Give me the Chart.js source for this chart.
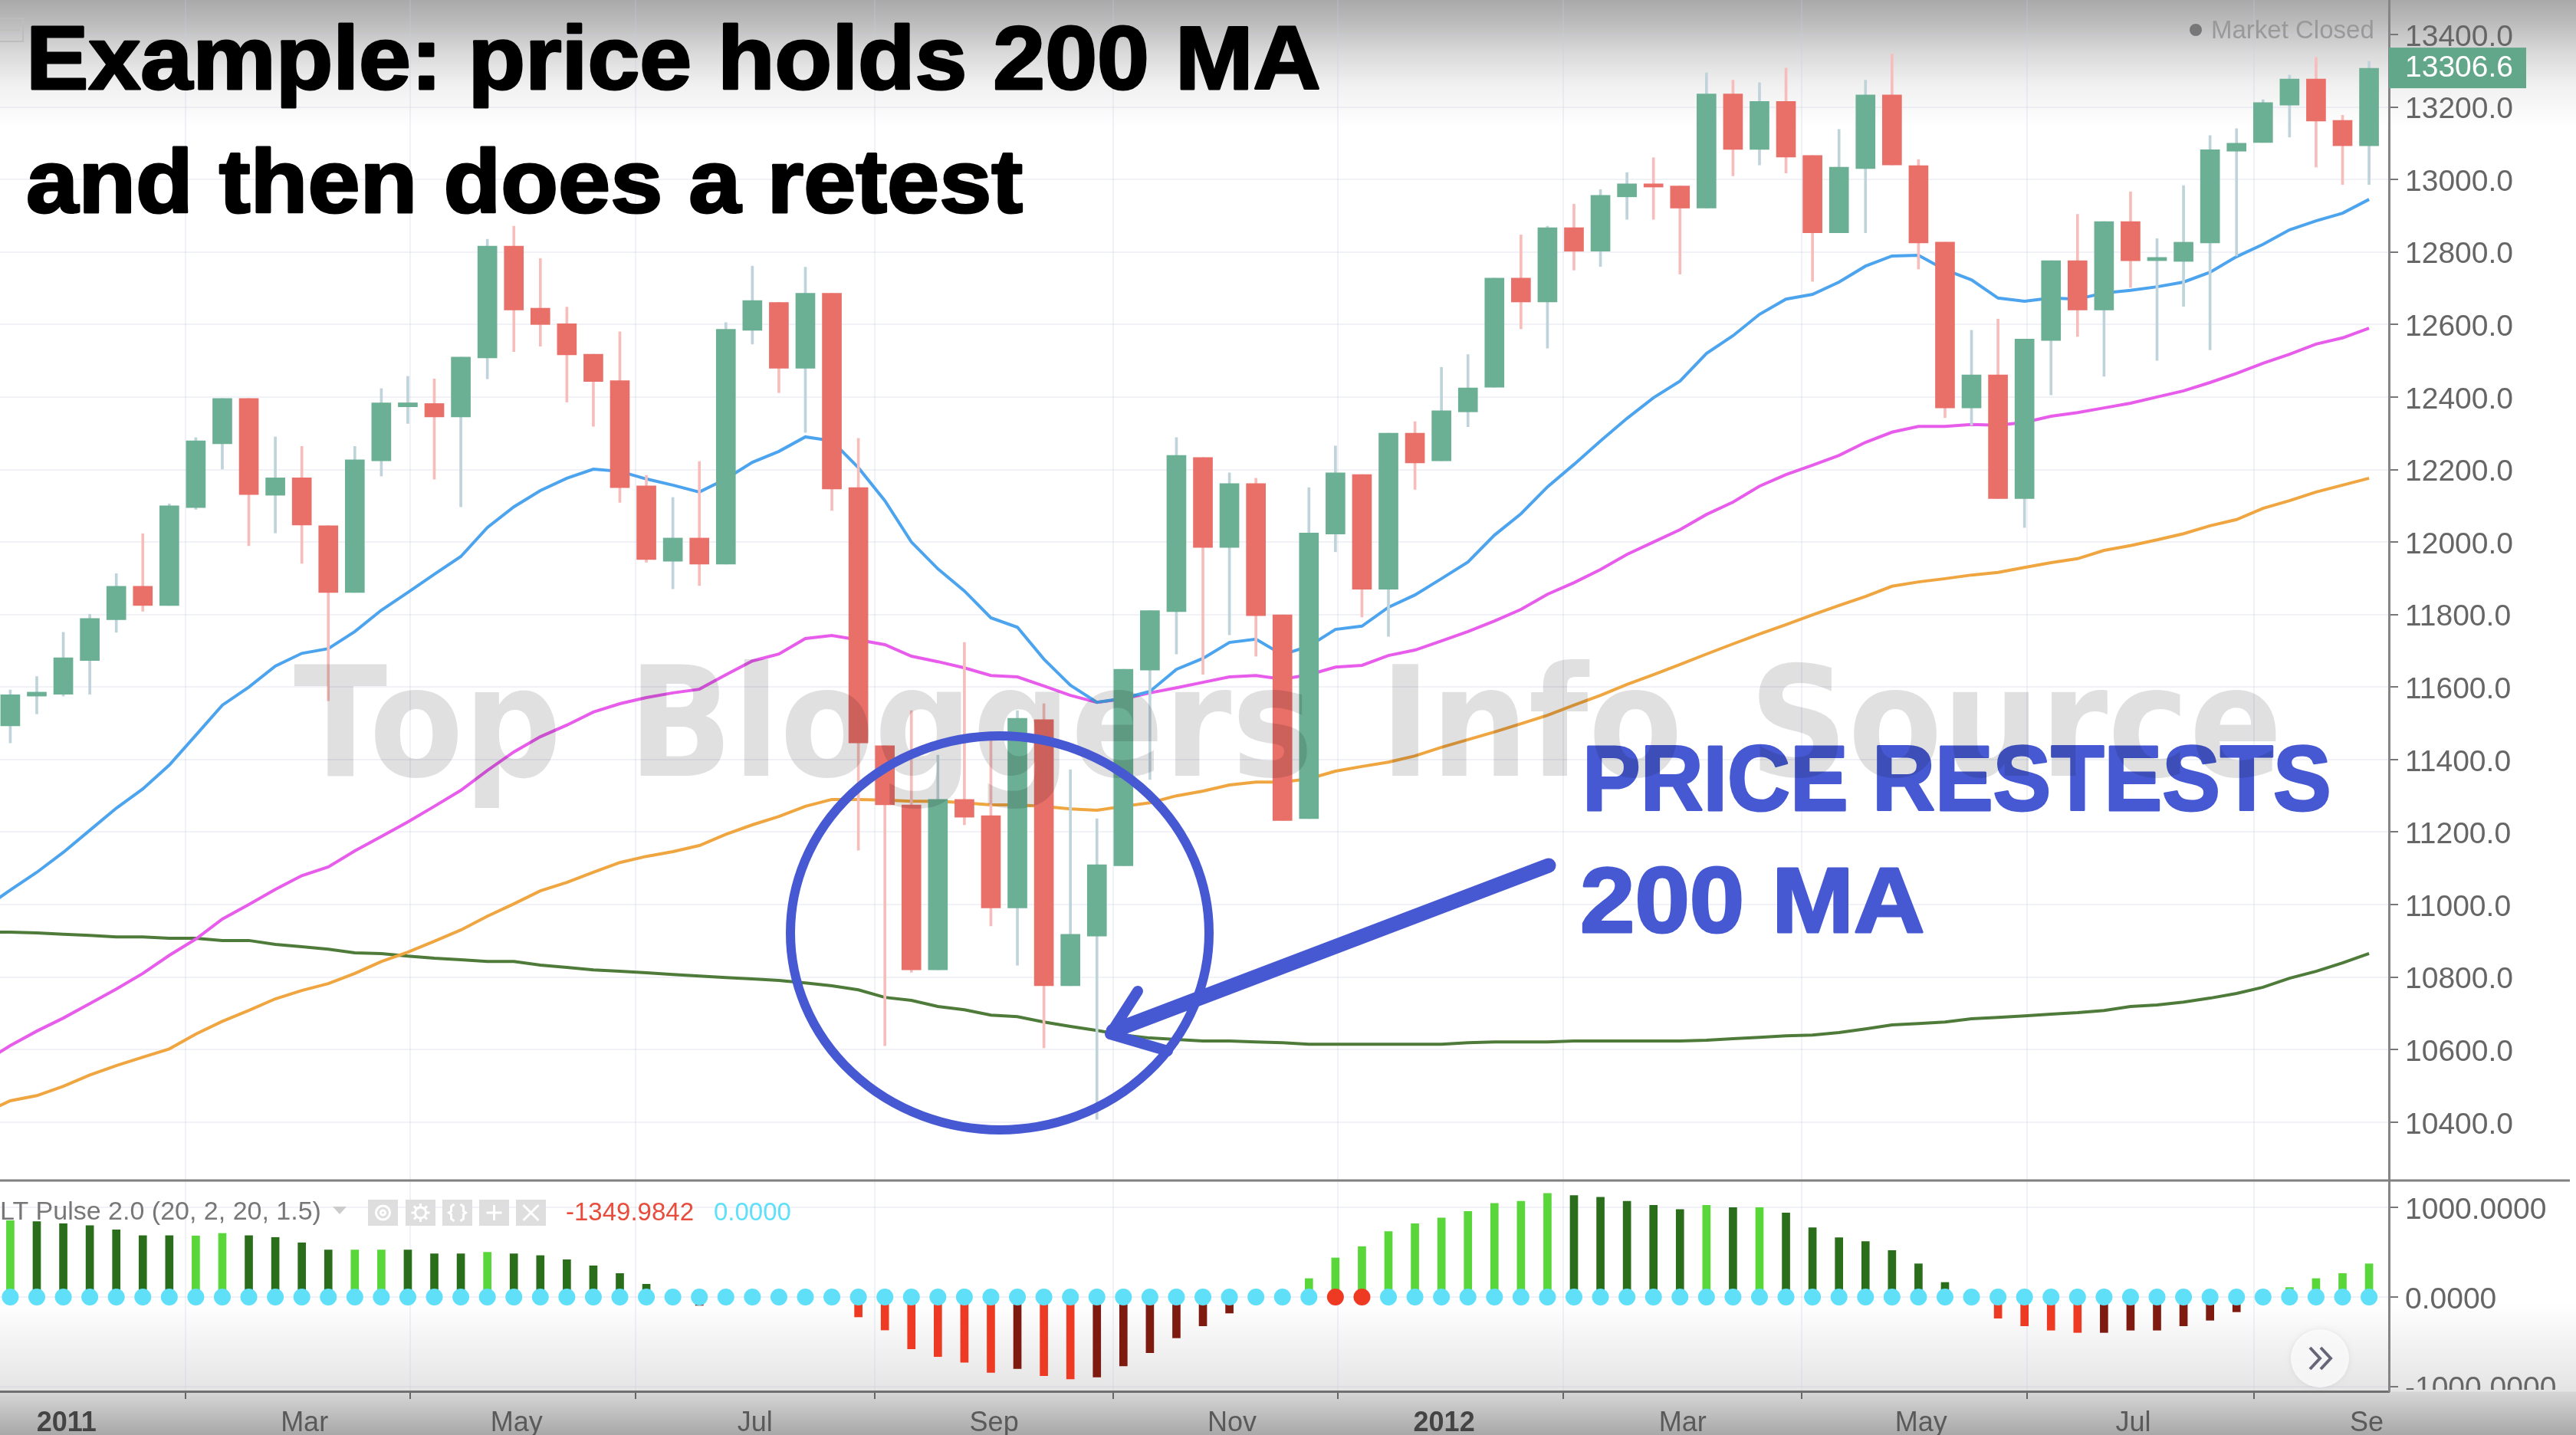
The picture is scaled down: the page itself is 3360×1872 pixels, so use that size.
<!DOCTYPE html>
<html><head><meta charset="utf-8">
<style>html,body{margin:0;padding:0;background:#fff;overflow:hidden}canvas{display:block}</style>
<script src="https://cdn.jsdelivr.net/npm/chart.js@4"></script>
</head><body><canvas id="c" width="3360" height="1872"></canvas>
<script>
const open=[11493,11575,11580,11673,11786,11878,11825,12095,12271,12396,12129,12177,12045,11861,12224,12373,12382,12345,12508,12816,12645,12602,12518,12445,12155,11947,12011,11939,12584,12661,12479,12686,12150,11438,11275,10820,11290,11245,10991,11510,10776,10913,11107,11647,11808,12233,11985,12161,11799,11237,12022,12186,11870,12300,12224,12359,12427,12728,12662,12867,12802,12952,12988,12982,12921,13236,13083,13215,13066,12853,13030,13233,13038,12827,12370,12461,12120,12556,12776,12640,12884,12776,12774,12825,13078,13102,13205,13277,13163,13093];
const close=[11579,11586,11681,11789,11878,11825,12100,12279,12396,12131,12177,12047,11861,12227,12384,12384,12345,12510,12816,12640,12600,12516,12443,12150,11952,12011,11939,12587,12666,12479,12686,12146,11446,11275,10820,11290,11241,10991,11514,10776,10918,11110,11649,11811,12239,11985,12161,11797,11232,12025,12191,11870,12300,12218,12362,12425,12728,12662,12867,12802,12956,12988,12979,12921,13236,13083,13215,13062,12853,13034,13233,13040,12825,12370,12461,12120,12560,12776,12640,12884,12776,12785,12827,13082,13100,13212,13277,13161,13093,13306.6];
const high=[11592,11629,11751,11801,11913,12023,12105,12288,12396,12396,12290,12264,12045,12264,12423,12457,12450,12510,12835,12871,12782,12648,12518,12580,12184,12123,12222,12605,12761,12661,12758,12686,12286,11438,11535,11412,11723,11465,11535,11554,11372,11237,11649,11811,12288,12233,12191,12176,11799,12150,12265,12186,12300,12332,12482,12517,12728,12847,12871,12932,12972,13019,13060,12982,13294,13274,13267,13307,13066,13138,13274,13346,13055,12827,12584,12615,12560,12776,12904,12884,12966,12837,12983,13121,13140,13220,13288,13337,13177,13326];
const low=[11446,11526,11575,11580,11751,11809,11825,12090,12201,11990,12025,11941,11562,11861,12182,12327,12173,12097,12450,12525,12540,12386,12319,12109,11944,11871,11880,11939,12546,12412,12302,12087,11150,10611,10813,10820,11220,10941,10833,10605,10776,10408,11107,11345,11691,11635,11744,11685,11232,11237,11973,11793,11740,12145,12224,12318,12427,12588,12535,12750,12760,12890,12890,12739,12921,13010,13040,13018,12719,12853,12853,13040,12753,12343,12322,12120,12040,12406,12567,12457,12702,12501,12650,12530,12789,13102,13117,13034,12986,12986];
// Moving averages; the first value belongs to the week before the first visible candle
const ma20=[10989,11040,11089,11144,11205,11266,11319,11385,11467,11550,11600,11658,11693,11706,11753,11812,11861,11911,11960,12040,12097,12142,12176,12201,12195,12174,12157,12138,12174,12220,12250,12290,12279,12205,12114,12000,11926,11865,11791,11765,11677,11605,11558,11569,11588,11649,11679,11723,11732,11689,11713,11759,11768,11820,11854,11899,11945,12019,12078,12152,12214,12279,12341,12398,12444,12520,12569,12628,12670,12683,12717,12761,12789,12791,12751,12723,12673,12664,12673,12670,12687,12694,12704,12717,12744,12787,12821,12861,12886,12907,12945];
const ma50=[10566,10611,10651,10687,10727,10767,10810,10860,10905,10960,11000,11042,11080,11104,11148,11188,11228,11271,11315,11370,11421,11463,11495,11531,11554,11571,11584,11594,11634,11672,11691,11734,11742,11730,11717,11685,11670,11653,11632,11628,11603,11577,11558,11567,11584,11598,11613,11628,11632,11622,11634,11655,11660,11687,11702,11727,11753,11782,11814,11856,11888,11924,11966,12000,12034,12076,12110,12154,12186,12212,12239,12275,12303,12319,12319,12324,12322,12330,12347,12357,12370,12383,12400,12417,12440,12465,12493,12518,12546,12563,12590];
const ma100=[10425,10459,10473,10499,10530,10556,10579,10602,10643,10678,10708,10740,10763,10782,10810,10843,10869,10899,10930,10968,11002,11038,11061,11089,11116,11133,11146,11163,11194,11220,11243,11271,11290,11290,11288,11285,11285,11281,11275,11275,11271,11264,11260,11271,11281,11300,11313,11330,11338,11338,11347,11368,11381,11393,11410,11434,11455,11476,11499,11522,11550,11577,11607,11634,11662,11691,11719,11746,11772,11799,11825,11850,11878,11890,11899,11909,11916,11930,11943,11954,11977,11990,12006,12023,12045,12062,12093,12114,12138,12157,12176];
const ma200=[10924,10924,10922,10918,10915,10911,10911,10907,10907,10901,10901,10890,10884,10877,10867,10865,10858,10852,10848,10843,10843,10833,10827,10820,10816,10812,10807,10803,10799,10795,10791,10784,10776,10765,10744,10736,10719,10710,10695,10691,10676,10664,10653,10640,10632,10628,10624,10624,10621,10619,10615,10615,10615,10615,10615,10615,10619,10621,10621,10621,10624,10624,10624,10624,10624,10626,10630,10634,10638,10640,10647,10657,10668,10672,10676,10685,10689,10693,10698,10702,10708,10719,10723,10731,10742,10755,10772,10797,10816,10839,10865];
const pulse=[854,843,820,797,751,686,686,683,711,686,666,606,526,526,526,526,483,483,500,483,463,417,349,263,143,0,-94,0,0,0,0,0,-223,-369,-580,-666,-729,-843,-800,-880,-917,-894,-771,-623,-457,-323,-180,0,0,206,437,563,731,820,883,957,1046,1069,1157,1134,1114,1069,1026,977,1026,1000,1000,940,774,663,620,520,371,163,0,-237,-323,-371,-397,-397,-371,-371,-323,-260,-166,0,106,206,263,371];
const pulseBright=[1,0,0,0,0,0,0,1,1,0,0,0,0,1,1,0,0,0,1,0,0,0,0,0,0,0,0,0,0,0,0,0,1,1,1,1,1,1,0,1,1,0,0,0,0,0,0,0,0,1,1,1,1,1,1,1,1,1,1,0,0,0,0,0,1,0,1,0,0,0,0,0,0,0,0,1,1,1,1,0,0,0,0,0,0,0,1,1,1,1];
const pulseSqueeze=[50,51];
const monthTickAt=[2.12,11.1,19.1,28.1,37.12,46.1,54.1,63.1,72.1,80.1,89.2];
const monthTickLabels=['2011','Mar','May','Jul','Sep','Nov','2012','Mar','May','Jul','Sep'];
const lastPrice=13306.6;

const C={up:'#6BAF94',dn:'#E96F69',upW:'#BFD3DA',dnW:'#F6BDBA',blue:'#4DA4EE',mag:'#E85CEC',org:'#F0A640',olive:'#4F7B3A',
 bright:'#58D63A',dark:'#2A6E1C',redB:'#EE3A22',redD:'#7E1A10',cyan:'#60DFF9',ink:'#4659D3',axis:'#858585',tick:'#666',grid:'rgba(200,206,226,0.26)'};
const FONT='"Liberation Sans", Arial, sans-serif';
const idx=open.map((_,i)=>i);
const wickBars=idx.map(i=>({x:i,y:[low[i],high[i]]}));
const bodyBars=idx.map(i=>({x:i,y:[open[i],close[i]]}));
const rising=idx.map(i=>close[i]>=open[i]);
const ma=a=>a.map((v,i)=>({x:i-1,y:v}));
const isYear=s=>/^\d{4}$/.test(s);
const noPad=s=>{s.paddingLeft=s.paddingRight=s.paddingTop=s.paddingBottom=0;};

function bgGradient(ctx){
  const g=ctx.createLinearGradient(0,0,0,1872);
  [[0,'#a9a9a9'],[30,'#bcbcbc'],[70,'#dadada'],[110,'#f0f0f0'],[165,'#ffffff'],[1700,'#ffffff'],[1815,'#e4e4e4'],[1816,'#d6d6d6'],[1872,'#a8a8a8']]
    .forEach(([y,c])=>g.addColorStop(y/1872,c));
  return g;
}
function heavyText(c,txt,x,y,sx,stroke){
  c.save();c.translate(x,y);c.scale(sx,1);
  c.lineJoin='round';c.lineWidth=stroke;c.strokeStyle=c.fillStyle;
  c.strokeText(txt,0,0);c.fillText(txt,0,0);c.restore();
}
const decor={
 id:'decor',
 beforeDraw(ch){
  const c=ch.ctx;c.save();c.fillStyle=bgGradient(c);c.fillRect(0,0,3360,1872);c.restore();
  // centre the digits optically on their tick marks
  ['y','y2'].forEach(k=>ch.scales[k].getLabelItems(ch.chartArea).forEach(it=>{it.options.translation[1]+=4;}));
 },
 afterDraw(ch){
  const c=ch.ctx,ys=ch.scales.y;
  c.save();
  // clip corner: tick label and month label cut by the panel edge
  c.fillStyle=bgGradient(c);c.fillRect(3119,1813,241,59);c.fillRect(3108,1830,20,42);
  // panel separator
  c.strokeStyle='#808080';c.lineWidth=3;c.beginPath();c.moveTo(0,1540);c.lineTo(3352,1540);c.stroke();
  // menu icon
  c.strokeStyle='#bdbdbd';c.lineWidth=2;c.strokeRect(-2,24,32,30);c.beginPath();c.moveTo(0,39);c.lineTo(26,39);c.stroke();
  // titles
  c.fillStyle='#000';c.textAlign='left';c.textBaseline='alphabetic';c.font='bold 116px '+FONT;
  heavyText(c,'Example: price holds 200 MA',34,116,1.052,3);
  heavyText(c,'and then does a retest',34,277,1.056,3);
  // market closed
  c.fillStyle='#777';c.beginPath();c.arc(2864,39,8,0,7);c.fill();
  c.fillStyle='#999';c.font='33px '+FONT;c.fillText('Market Closed',2884,50);
  // last price
  const py=ys.getPixelForValue(lastPrice);
  c.fillStyle='#63A78A';c.fillRect(3116,py-27,179,53);
  c.fillStyle='#fff';c.font='39px '+FONT;c.textBaseline='middle';c.fillText(lastPrice.toFixed(1),3137,py);
  // pulse legend
  c.textBaseline='middle';c.fillStyle='#777';c.font='34px '+FONT;c.fillText('LT Pulse 2.0 (20, 2, 20, 1.5)',0,1582);
  c.fillStyle='#ccc';c.beginPath();c.moveTo(434,1574);c.lineTo(452,1574);c.lineTo(443,1584);c.fill();
  [480,529,577,625,673].forEach((x,k)=>{
    c.fillStyle='#dedede';c.fillRect(x,1565,39,34);
    c.strokeStyle='#fff';c.lineWidth=3;c.beginPath();
    const mx=x+19.5,my=1582;
    if(k===0){c.arc(mx,my,9,0,7);c.moveTo(mx+3,my);c.arc(mx,my,3,0,7);}
    if(k===1){c.arc(mx,my,7,0,7);for(let a=0;a<8;a++){c.moveTo(mx+8*Math.cos(a*.785),my+8*Math.sin(a*.785));c.lineTo(mx+12*Math.cos(a*.785),my+12*Math.sin(a*.785));}}
    if(k===2){c.moveTo(mx-4,my-11);c.lineTo(mx-8,my-8);c.lineTo(mx-8,my-2);c.lineTo(mx-11,my);c.lineTo(mx-8,my+2);c.lineTo(mx-8,my+8);c.lineTo(mx-4,my+11);c.moveTo(mx+4,my-11);c.lineTo(mx+8,my-8);c.lineTo(mx+8,my-2);c.lineTo(mx+11,my);c.lineTo(mx+8,my+2);c.lineTo(mx+8,my+8);c.lineTo(mx+4,my+11);}
    if(k===3){c.moveTo(mx-10,my);c.lineTo(mx+10,my);c.moveTo(mx,my-10);c.lineTo(mx,my+10);}
    if(k===4){c.moveTo(mx-10,my-10);c.lineTo(mx+10,my+10);c.moveTo(mx+10,my-10);c.lineTo(mx-10,my+10);}
    c.stroke();
  });
  c.font='33px '+FONT;c.fillStyle='#E74C3C';c.fillText('-1349.9842',738,1583);
  c.fillStyle=C.cyan;c.fillText('0.0000',931,1583);
  // scroll button
  c.save();c.shadowColor='rgba(0,0,0,.10)';c.shadowBlur=6;c.fillStyle='rgba(255,255,255,.75)';c.beginPath();c.arc(3026,1772,38,0,7);c.fill();c.restore();
  c.strokeStyle='#667';c.lineWidth=4;c.beginPath();
  [3013,3027].forEach(x=>{c.moveTo(x,1758);c.lineTo(x+13,1772);c.lineTo(x,1786);});c.stroke();
  // annotation text, then the watermark over it and the marks, then the hand-drawn circle and arrow
  c.fillStyle=C.ink;c.textBaseline='alphabetic';c.font='bold 120px '+FONT;
  heavyText(c,'PRICE RESTESTS',2064,1057,0.945,3);
  heavyText(c,'200 MA',2061,1216,1.07,3);
  c.save();
  c.fillStyle='rgba(0,0,0,0.12)';c.font='bold 199px "DejaVu Sans"';c.wordSpacing='27px';
  c.translate(383,1012);c.scale(0.9,1);c.fillText('Top Bloggers Info Source',0,0);
  c.restore();
  c.strokeStyle=C.ink;c.lineCap='round';c.lineJoin='round';
  c.lineWidth=12;c.beginPath();c.ellipse(1304,1217,273,257,0,0,7);c.stroke();
  c.lineWidth=19;c.beginPath();c.moveTo(2020,1129);c.lineTo(1452,1345);c.stroke();
  c.lineWidth=14;c.beginPath();c.moveTo(1484,1293);c.lineTo(1448,1349);c.lineTo(1523,1371);c.stroke();
  c.restore();
 }
};
new Chart(document.getElementById('c'),{
 data:{datasets:[
  {type:'bar',data:bodyBars,yAxisID:'y',grouped:false,barThickness:25,backgroundColor:rising.map(r=>r?C.up:C.dn),order:1},
  {type:'bar',data:wickBars,yAxisID:'y',grouped:false,barThickness:3,backgroundColor:rising.map(r=>r?C.upW:C.dnW),order:2},
  {type:'line',data:ma(ma20),yAxisID:'y',borderColor:C.blue,borderWidth:4,pointRadius:0,tension:0,order:3},
  {type:'line',data:ma(ma50),yAxisID:'y',borderColor:C.mag,borderWidth:4,pointRadius:0,tension:0,order:4},
  {type:'line',data:ma(ma100),yAxisID:'y',borderColor:C.org,borderWidth:4,pointRadius:0,tension:0,order:5},
  {type:'line',data:ma(ma200),yAxisID:'y',borderColor:C.olive,borderWidth:4,pointRadius:0,tension:0,order:6},
  {type:'line',data:idx.map(i=>({x:i,y:0})),yAxisID:'y2',showLine:false,pointRadius:11,pointBorderWidth:0,
   pointBackgroundColor:idx.map(i=>pulseSqueeze.includes(i)?C.redB:C.cyan),order:0},
  {type:'bar',data:idx.map(i=>({x:i,y:pulse[i]})),yAxisID:'y2',grouped:false,barThickness:10,
   backgroundColor:idx.map(i=>pulse[i]>=0?(pulseBright[i]?C.bright:C.dark):(pulseBright[i]?C.redB:C.redD)),order:1}
 ]},
 options:{
  responsive:false,animation:false,devicePixelRatio:1,
  layout:{padding:0,autoPadding:false},
  plugins:{legend:{display:false},tooltip:{enabled:false},title:{display:false}},
  scales:{
   x:{type:'linear',position:'bottom',min:-0.388,max:89.75,offset:false,
    afterBuildTicks:s=>{s.ticks=monthTickAt.map(v=>({value:v}));},
    afterFit:s=>{s.height=57;noPad(s);},
    grid:{color:C.grid,lineWidth:2,tickLength:10,tickColor:'#666',tickWidth:2},
    border:{color:'#707070',width:3},
    ticks:{autoSkip:false,maxRotation:0,padding:10,includeBounds:false,
     callback:(v,i)=>monthTickLabels[i],
     color:c=>isYear(monthTickLabels[c.index])?'#444':'#5a5a5a',
     font:c=>({family:FONT,size:36,weight:isYear(monthTickLabels[c.index])?'bold':'normal'})}
   },
   y:{position:'right',stack:'panes',stackWeight:1540,weight:1,min:10239,max:13495,
    afterBuildTicks:s=>{const t=[];for(let v=10400;v<=13400;v+=200)t.push({value:v});s.ticks=t;},
    afterFit:s=>{s.width=244;noPad(s);},
    grid:{color:C.grid,lineWidth:2,tickLength:12,tickColor:'#777',tickWidth:2},
    border:{color:C.axis,width:3},
    ticks:{padding:9,color:C.tick,font:{family:FONT,size:39},callback:v=>Number(v).toFixed(1)}
   },
   y2:{position:'right',stack:'panes',stackWeight:275,weight:2,min:-1054,max:1302,
    afterBuildTicks:s=>{s.ticks=[-1000,0,1000].map(v=>({value:v}));},
    afterFit:s=>{s.width=244;noPad(s);},
    grid:{color:C.grid,lineWidth:2,tickLength:12,tickColor:'#777',tickWidth:2},
    border:{color:C.axis,width:3},
    ticks:{padding:9,color:C.tick,font:{family:FONT,size:39},callback:v=>Number(v).toFixed(4)}
   }
  }
 },
 plugins:[decor]
});
</script></body></html>
